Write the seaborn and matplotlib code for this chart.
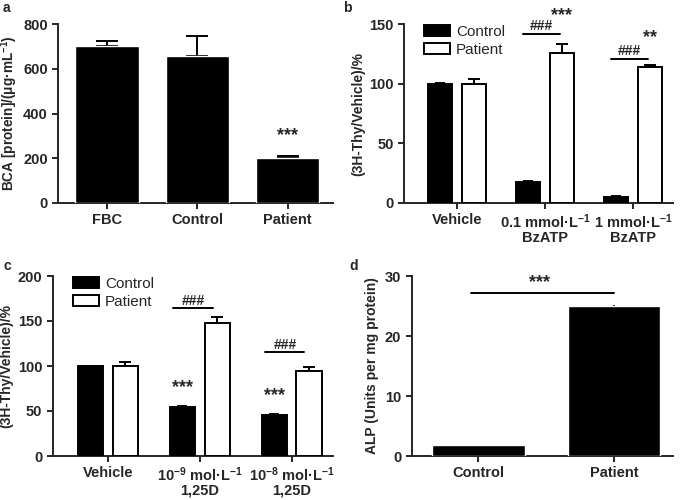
import pandas as pd
import matplotlib
matplotlib.use('Agg')
import matplotlib.pyplot as plt
from matplotlib.patches import Patch
import seaborn as sns

# panel a - protein content
a_groups = ['FBC', 'Control', 'Patient']
a_means = [703, 655, 199]
a_errs = [23, 91, 9]

# panel b - BzATP proliferation
b_groups = ['Vehicle', '0.1 mmol·L$^{-1}$\nBzATP', '1 mmol·L$^{-1}$\nBzATP']
b_control = [100, 17.6, 5.3]
b_control_err = [0.8, 0.8, 0.5]
b_patient = [100, 126, 114]
b_patient_err = [3.5, 7.5, 1.8]

# panel c - 1,25D proliferation
c_groups = ['Vehicle', '10$^{-9}$ mol·L$^{-1}$\n1,25D', '10$^{-8}$ mol·L$^{-1}$\n1,25D']
c_control = [100, 54.5, 46]
c_control_err = [0.5, 1.0, 0.5]
c_patient = [100, 147.5, 94]
c_patient_err = [5, 6.5, 5]

# panel d - ALP
d_groups = ['Control', 'Patient']
d_means = [1.8, 25.0]
d_errs = [0.1, 0.1]

sns.set_style('ticks')
plt.rcParams['font.family'] = ['Liberation Sans', 'DejaVu Sans']
plt.rcParams['font.weight'] = 'bold'
plt.rcParams['axes.labelweight'] = 'bold'
plt.rcParams['mathtext.fontset'] = 'custom'
plt.rcParams['mathtext.rm'] = 'Liberation Sans:bold'
plt.rcParams['mathtext.bf'] = 'Liberation Sans:bold'
plt.rcParams['mathtext.default'] = 'bf'
plt.rcParams['axes.linewidth'] = 1.4
plt.rcParams['xtick.major.width'] = 1.4
plt.rcParams['ytick.major.width'] = 1.4
plt.rcParams['xtick.major.size'] = 4
plt.rcParams['ytick.major.size'] = 4
plt.rcParams['xtick.labelsize'] = 10.5
plt.rcParams['ytick.labelsize'] = 10.5
plt.rcParams['axes.labelsize'] = 10

fig = plt.figure(figsize=(6.85, 5.0), dpi=100)
ax_a = fig.add_axes([0.085, 0.594, 0.401, 0.358])
ax_b = fig.add_axes([0.590, 0.594, 0.392, 0.358])
ax_c = fig.add_axes([0.077, 0.088, 0.409, 0.360])
ax_d = fig.add_axes([0.601, 0.088, 0.381, 0.360])

pal = {'Control': 'black', 'Patient': 'white'}


def add_errs(ax, xs, ys, errs, cap):
    ax.errorbar(xs, ys, yerr=[[0] * len(errs), errs], fmt='none', ecolor='black',
                elinewidth=1.4, capsize=cap, capthick=1.4, zorder=1)


def grouped(ax, groups, ctrl, ctrl_err, pat, pat_err):
    df = pd.DataFrame({'group': groups * 2,
                       'cond': ['Control'] * len(groups) + ['Patient'] * len(groups),
                       'value': ctrl + pat})
    sns.barplot(data=df, x='group', y='value', hue='cond', palette=pal, ax=ax,
                width=0.76, gap=0.28, edgecolor='black', linewidth=1.4,
                errorbar=None, zorder=3, legend=False)
    bars = ax.patches
    xs = [b.get_x() + b.get_width() / 2 for b in bars[:2 * len(groups)]]
    add_errs(ax, xs[:len(groups)], ctrl, ctrl_err, 3.5)
    add_errs(ax, xs[len(groups):], pat, pat_err, 4.5)
    handles = [Patch(facecolor='black', edgecolor='black', linewidth=1.4, label='Control'),
               Patch(facecolor='white', edgecolor='black', linewidth=1.4, label='Patient')]
    ax.legend(handles=handles, loc='upper left', frameon=False,
              prop={'weight': 'normal', 'size': 11}, handlelength=1.7, handleheight=0.8,
              borderaxespad=0.0, bbox_to_anchor=(0.05, 1.03), labelspacing=0.25,
              handletextpad=0.4)
    ax.set_xlabel('')
    ax.set_ylabel('(3H-Thy/Vehicle)/%', labelpad=3)
    ax.set_xlim(-0.6, 2.45)
    for t in ax.get_xticklabels():
        t.set_linespacing(0.95)
    return xs


# panel a
df_a = pd.DataFrame({'group': a_groups, 'value': a_means})
sns.barplot(data=df_a, x='group', y='value', color='black', ax=ax_a, width=0.7,
            errorbar=None, saturation=1, zorder=3)
add_errs(ax_a, range(3), a_means, a_errs, 8)
ax_a.set_ylim(0, 800)
ax_a.set_yticks([0, 200, 400, 600, 800])
ax_a.set_xlim(-0.54, 2.5)
ax_a.set_xlabel('')
ax_a.set_ylabel('BCA [protein]/(μg·mL$^{-1}$)', fontsize=9.8, labelpad=2)
ax_a.text(2, a_means[2] + a_errs[2] + 95, '***', ha='center', va='center', fontsize=13)

# panel b
xs_b = grouped(ax_b, b_groups, b_control, b_control_err, b_patient, b_patient_err)
ax_b.set_ylim(0, 150)
ax_b.set_yticks([0, 50, 100, 150])
for i, (ly, sy, stars) in zip([1, 2], [(142, 157, '***'), (121, 139, '**')]):
    ax_b.plot([xs_b[i] - 0.06, xs_b[3 + i] - 0.02], [ly, ly], color='black', lw=1.4, clip_on=False)
    ax_b.text((xs_b[i] + xs_b[3 + i]) / 2 - 0.04, ly + 0.3, '###', ha='center', va='bottom',
              fontsize=10)
    ax_b.text(xs_b[3 + i], sy, stars, ha='center', va='center', fontsize=13, clip_on=False)

# panel c
xs_c = grouped(ax_c, c_groups, c_control, c_control_err, c_patient, c_patient_err)
ax_c.set_ylim(0, 200)
ax_c.set_yticks([0, 50, 100, 150, 200])
for i, ly in zip([1, 2], [164, 115.5]):
    ax_c.plot([xs_c[i] - 0.1, xs_c[3 + i] - 0.05], [ly, ly], color='black', lw=1.4)
    ax_c.text((xs_c[i] + xs_c[3 + i]) / 2 - 0.07, ly + 0.5, '###', ha='center', va='bottom',
              fontsize=10)
    ax_c.text(xs_c[i], c_control[i] + 21, '***', ha='center', va='center', fontsize=13)

# panel d
df_d = pd.DataFrame({'group': d_groups, 'value': d_means})
sns.barplot(data=df_d, x='group', y='value', color='black', ax=ax_d, width=0.68,
            errorbar=None, saturation=1, zorder=3)
add_errs(ax_d, range(2), d_means, d_errs, 0)
ax_d.set_ylim(0, 30)
ax_d.set_yticks([0, 10, 20, 30])
ax_d.set_xlim(-0.49, 1.43)
ax_d.set_xlabel('')
ax_d.set_ylabel('ALP (Units per mg protein)')
ax_d.plot([-0.05, 1.0], [27.2, 27.2], color='black', lw=1.4)
ax_d.text(0.45, 28.9, '***', ha='center', va='center', fontsize=13)

for ax in [ax_a, ax_b, ax_c, ax_d]:
    sns.despine(ax=ax)
    ax.tick_params(axis='x', length=4, pad=3)

for lbl, x, y in [('a', 3, 8), ('b', 343, 8), ('c', 3, 266), ('d', 349, 266)]:
    fig.text(x / 685, 1 - y / 500, lbl, ha='left', va='center', fontsize=10, fontweight='bold')

fig.savefig('out.png', dpi=100)
